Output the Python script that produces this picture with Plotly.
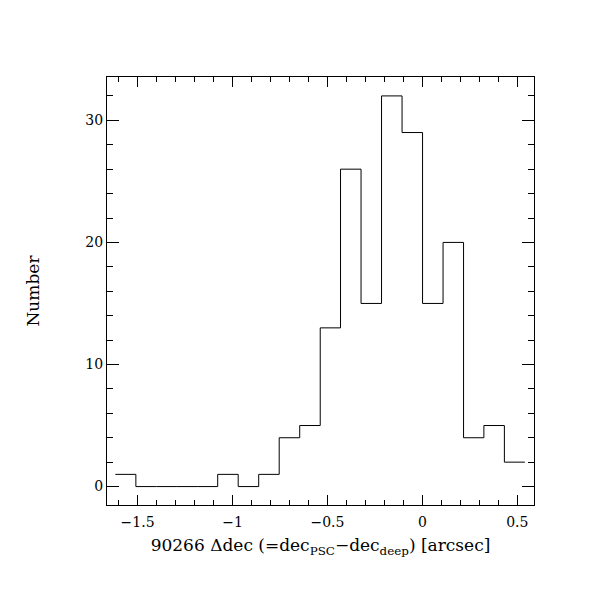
import plotly.graph_objects as go

# Bin edges (arcsec)
bin_edges = [-1.617, -1.509, -1.401, -1.293, -1.186, -1.078, -0.970, -0.862,
             -0.754, -0.646, -0.538, -0.431, -0.323, -0.215, -0.107, 0.001,
             0.109, 0.217, 0.324, 0.432, 0.540]
counts = [1, 0, 0, 0, 0, 1, 0, 1, 4, 5, 13, 26, 15, 32, 29, 15, 20, 4, 5, 2]

x_tickvals = [-1.5, -1, -0.5, 0, 0.5]
x_ticktext = ["\u22121.5", "\u22121", "\u22120.5", "0", "0.5"]
y_tickvals = [0, 10, 20, 30]
y_ticktext = ["0", "10", "20", "30"]

step_x = list(bin_edges)
step_y = list(counts) + [counts[-1]]

font_family = "DejaVu Serif"

fig = go.Figure()
fig.add_trace(go.Scatter(
    x=step_x, y=step_y, mode="lines", line_shape="hv",
    line=dict(color="black", width=1), showlegend=False, hoverinfo="skip",
))

fig.update_layout(
    width=611, height=611,
    margin=dict(l=99, r=85, t=69, b=114),
    paper_bgcolor="white", plot_bgcolor="white",
    font=dict(family=font_family, size=14, color="black"),
    xaxis=dict(
        range=[-1.661, 0.588], showgrid=False, zeroline=False,
        showline=True, linecolor="black", linewidth=1, mirror="ticks",
        ticks="inside", ticklen=10, tickwidth=1, tickcolor="black",
        tickvals=x_tickvals, ticktext=x_ticktext, ticklabelstandoff=4,
        minor=dict(dtick=0.1, tick0=0, ticks="inside", ticklen=5, tickwidth=1, tickcolor="black", showgrid=False),
        title=dict(text="90266 \u0394dec (=dec<sub>PSC</sub>\u2212dec<sub>deep</sub>) [arcsec]", standoff=10),
        tickfont=dict(size=14),
    ),
    yaxis=dict(
        range=[-1.51, 33.55], showgrid=False, zeroline=False,
        showline=True, linecolor="black", linewidth=1, mirror="ticks",
        ticks="inside", ticklen=12, tickwidth=1, tickcolor="black",
        tickvals=y_tickvals, ticktext=y_ticktext,
        minor=dict(dtick=2, tick0=0, ticks="inside", ticklen=6, tickwidth=1, tickcolor="black", showgrid=False),
        title=dict(text="Number", standoff=41),
        tickfont=dict(size=14),
    ),
)

fig.write_html("out.html")
